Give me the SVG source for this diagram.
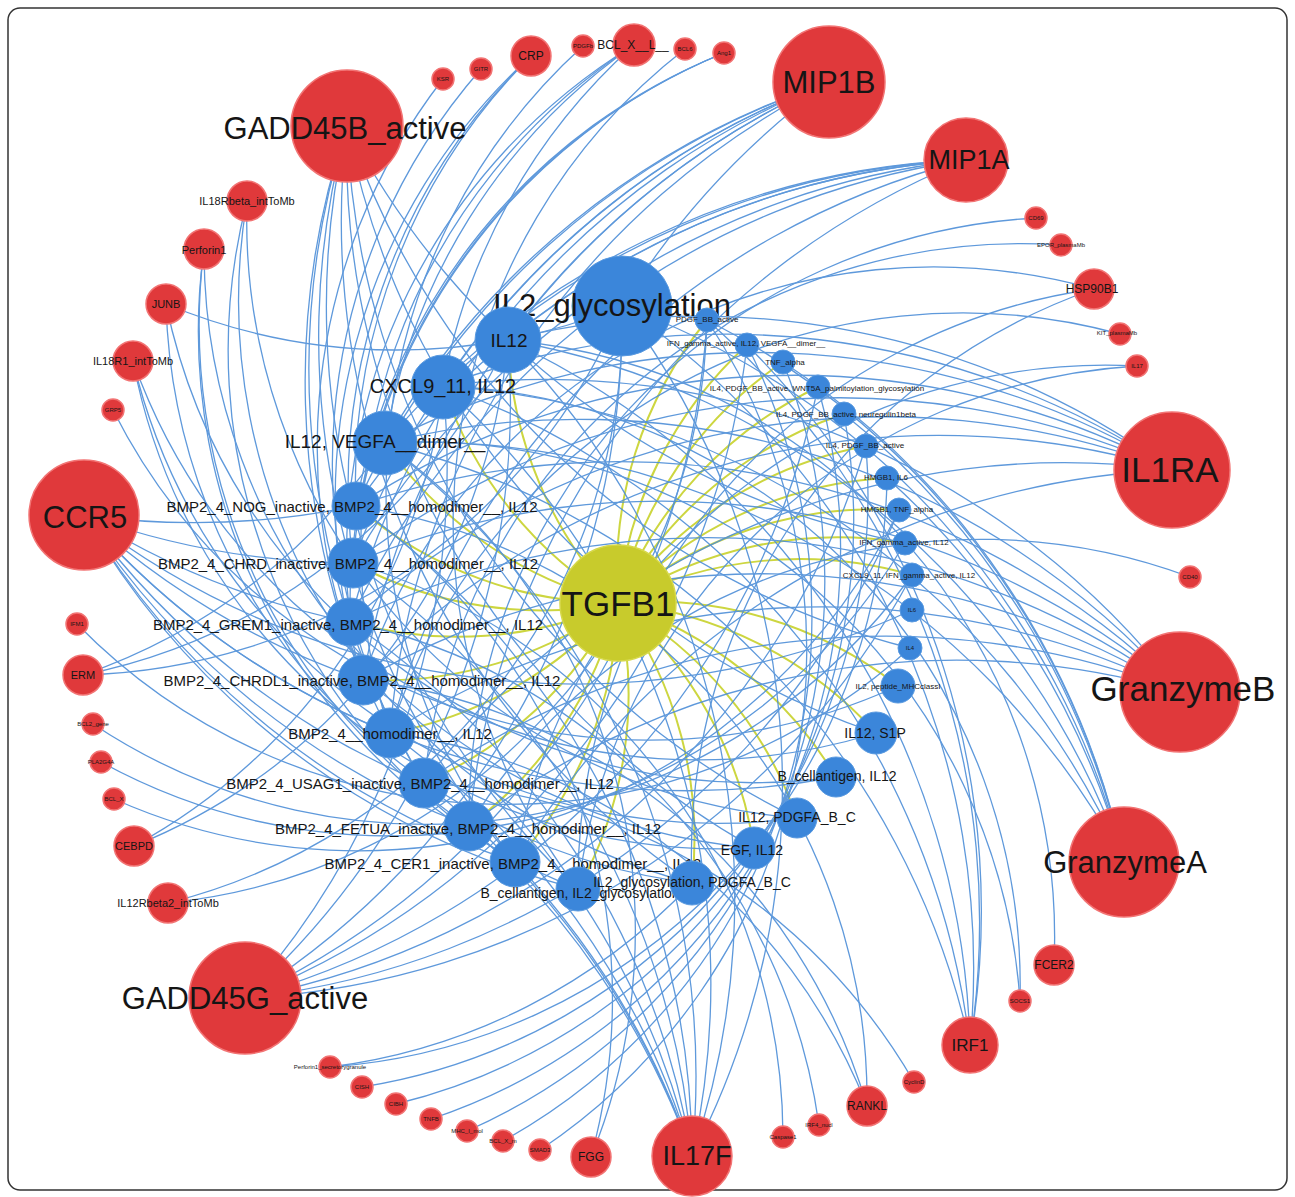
<svg xmlns="http://www.w3.org/2000/svg" width="1295" height="1197" viewBox="0 0 1295 1197">
<style>
.e{fill:none;stroke:#4d8ed8;stroke-width:1.3;opacity:.9}
.y{fill:none;stroke:#cdd640;stroke-width:2}
.r{fill:#e0393b;stroke:#f27474;stroke-width:1.5}
.b{fill:#3b86da;stroke:#5a9ae0;stroke-width:1}
.g{fill:#c8cb2c;stroke:#d6d84a;stroke-width:1.5}
text{font-family:"Liberation Sans",Arial,sans-serif;fill:#151515;text-anchor:middle;dominant-baseline:central}
.s0{font-size:6px}.s1{font-size:8px}.s2{font-size:11px}.s3{font-size:12px}.s4{font-size:14px}.s5{font-size:15px}.s6{font-size:17px}.s7{font-size:19px}.s8{font-size:20px}.s9{font-size:27px}.s10{font-size:31px}.s11{font-size:35px}
</style>
<rect x="8" y="8" width="1279" height="1182" rx="12" fill="#fff" stroke="#333" stroke-width="1.5"/>
<g id="connectors">
<g class="y">
<path d="M618 603A400 400 0 0 1 508 340"/><path d="M618 603A400 400 0 0 1 443 386"/><path d="M618 603A400 400 0 0 1 385 443"/><path d="M618 603A400 400 0 0 1 356 506"/><path d="M618 603A400 400 0 0 1 353 563"/><path d="M618 603A400 400 0 0 1 350 622"/><path d="M618 603A400 400 0 0 1 363 680"/><path d="M618 603A400 400 0 0 1 390 733"/><path d="M618 603A400 400 0 0 1 424 783"/><path d="M618 603A400 400 0 0 1 469 826"/><path d="M618 603A400 400 0 0 1 515 862"/><path d="M618 603A400 400 0 0 1 578 889"/><path d="M618 603A400 400 0 0 1 692 883"/><path d="M618 603A400 400 0 0 1 754 848"/><path d="M618 603A400 400 0 0 1 797 818"/><path d="M618 603A400 400 0 0 1 836 777"/><path d="M618 603A400 400 0 0 1 876 733"/><path d="M618 603A400 400 0 0 1 898 686"/><path d="M618 603A400 400 0 0 1 912 575"/><path d="M618 603A400 400 0 0 1 905 543"/><path d="M618 603A400 400 0 0 1 899 510"/><path d="M618 603A400 400 0 0 1 887 478"/><path d="M618 603A400 400 0 0 1 866 446"/><path d="M618 603A400 400 0 0 1 844 414"/><path d="M618 603A400 400 0 0 1 818 387"/><path d="M618 603A400 400 0 0 1 783 362"/><path d="M618 603A400 400 0 0 1 747 345"/><path d="M618 603A400 400 0 0 1 707 320"/>
</g>
<g class="e">
<path d="M347 126A800 800 0 0 0 363 680"/><path d="M347 126A800 800 0 0 0 424 783"/><path d="M347 126A800 800 0 0 0 515 862"/><path d="M347 126A800 800 0 0 0 578 889"/><path d="M347 126A800 800 0 0 0 692 883"/><path d="M347 126A800 800 0 0 0 754 848"/><path d="M347 126A800 800 0 0 0 797 818"/><path d="M347 126A800 800 0 0 0 876 733"/><path d="M347 126A800 800 0 0 0 910 648"/><path d="M347 126A800 800 0 0 0 905 543"/>
<path d="M245 998A800 800 0 0 0 622 306"/><path d="M245 998A800 800 0 0 0 508 340"/><path d="M245 998A800 800 0 0 0 443 386"/><path d="M245 998A800 800 0 0 0 707 320"/><path d="M245 998A800 800 0 0 0 747 345"/><path d="M245 998A800 800 0 0 0 818 387"/><path d="M245 998A800 800 0 0 0 866 446"/><path d="M245 998A800 800 0 0 0 899 510"/><path d="M245 998A800 800 0 0 0 912 575"/>
<path d="M84 515A800 800 0 0 0 356 506"/><path d="M84 515A800 800 0 0 0 353 563"/><path d="M84 515A800 800 0 0 0 350 622"/><path d="M84 515A800 800 0 0 0 363 680"/><path d="M84 515A800 800 0 0 0 390 733"/><path d="M84 515A800 800 0 0 0 424 783"/><path d="M84 515A800 800 0 0 0 469 826"/><path d="M84 515A800 800 0 0 0 515 862"/><path d="M84 515A800 800 0 0 0 578 889"/><path d="M84 515A800 800 0 0 0 836 777"/><path d="M84 515A800 800 0 0 0 912 610"/>
<path d="M829 82A800 800 0 0 0 508 340"/><path d="M829 82A800 800 0 0 0 443 386"/><path d="M829 82A800 800 0 0 0 385 443"/><path d="M829 82A800 800 0 0 0 356 506"/><path d="M829 82A800 800 0 0 0 353 563"/><path d="M829 82A800 800 0 0 0 350 622"/><path d="M829 82A800 800 0 0 0 363 680"/><path d="M829 82A800 800 0 0 0 390 733"/><path d="M829 82A800 800 0 0 0 622 306"/>
<path d="M966 160A800 800 0 0 0 508 340"/><path d="M966 160A800 800 0 0 0 443 386"/><path d="M966 160A800 800 0 0 0 385 443"/><path d="M966 160A800 800 0 0 0 356 506"/><path d="M966 160A800 800 0 0 0 353 563"/><path d="M966 160A800 800 0 0 0 350 622"/><path d="M966 160A800 800 0 0 0 390 733"/><path d="M966 160A800 800 0 0 0 469 826"/>
<path d="M1172 470A800 800 0 0 0 508 340"/><path d="M1172 470A800 800 0 0 0 443 386"/><path d="M1172 470A800 800 0 0 0 385 443"/><path d="M1172 470A800 800 0 0 0 356 506"/><path d="M1172 470A800 800 0 0 0 353 563"/><path d="M1172 470A800 800 0 0 0 350 622"/><path d="M1172 470A800 800 0 0 0 363 680"/><path d="M1172 470A800 800 0 0 0 424 783"/><path d="M1172 470A800 800 0 0 0 515 862"/>
<path d="M1180 692A800 800 0 0 0 443 386"/><path d="M1180 692A800 800 0 0 0 385 443"/><path d="M1180 692A800 800 0 0 0 356 506"/><path d="M1180 692A800 800 0 0 0 353 563"/><path d="M1180 692A800 800 0 0 0 350 622"/><path d="M1180 692A800 800 0 0 0 363 680"/><path d="M1180 692A800 800 0 0 0 390 733"/><path d="M1180 692A800 800 0 0 0 424 783"/><path d="M1180 692A800 800 0 0 0 469 826"/>
<path d="M1124 862A800 800 0 0 0 622 306"/><path d="M1124 862A800 800 0 0 0 508 340"/><path d="M1124 862A800 800 0 0 0 443 386"/><path d="M1124 862A800 800 0 0 0 385 443"/><path d="M1124 862A800 800 0 0 0 707 320"/><path d="M1124 862A800 800 0 0 0 783 362"/><path d="M1124 862A800 800 0 0 0 844 414"/><path d="M1124 862A800 800 0 0 0 887 478"/>
<path d="M692 1156A800 800 0 0 0 622 306"/><path d="M692 1156A800 800 0 0 0 508 340"/><path d="M692 1156A800 800 0 0 0 443 386"/><path d="M692 1156A800 800 0 0 0 385 443"/><path d="M692 1156A800 800 0 0 0 356 506"/><path d="M692 1156A800 800 0 0 0 353 563"/><path d="M692 1156A800 800 0 0 0 350 622"/><path d="M692 1156A800 800 0 0 0 363 680"/><path d="M692 1156A800 800 0 0 0 390 733"/><path d="M692 1156A800 800 0 0 0 424 783"/><path d="M692 1156A800 800 0 0 0 469 826"/><path d="M692 1156A800 800 0 0 0 515 862"/>
<path d="M970 1045A800 800 0 0 0 622 306"/><path d="M970 1045A800 800 0 0 0 508 340"/><path d="M970 1045A800 800 0 0 0 443 386"/><path d="M970 1045A800 800 0 0 0 385 443"/><path d="M970 1045A800 800 0 0 0 707 320"/><path d="M970 1045A800 800 0 0 0 747 345"/>
<path d="M443 79A600 600 0 0 0 390 733"/><path d="M481 69A600 600 0 0 0 424 783"/><path d="M531 56A600 600 0 0 0 356 506"/><path d="M531 56A600 600 0 0 0 353 563"/><path d="M531 56A600 600 0 0 0 363 680"/><path d="M583 46A600 600 0 0 0 515 862"/><path d="M634 45A600 600 0 0 0 443 386"/><path d="M634 45A600 600 0 0 0 385 443"/><path d="M634 45A600 600 0 0 0 350 622"/><path d="M634 45A600 600 0 0 0 390 733"/><path d="M685 49A600 600 0 0 0 578 889"/><path d="M724 53A600 600 0 0 0 356 506"/><path d="M724 53A600 600 0 0 0 353 563"/><path d="M724 53A600 600 0 0 0 350 622"/>
<path d="M247 201A600 600 0 0 0 692 883"/><path d="M247 201A600 600 0 0 0 797 818"/><path d="M247 201A600 600 0 0 0 515 862"/><path d="M204 249A600 600 0 0 0 578 889"/><path d="M204 249A600 600 0 0 0 754 848"/><path d="M204 249A600 600 0 0 0 469 826"/><path d="M166 304A600 600 0 0 0 692 883"/><path d="M166 304A600 600 0 0 0 836 777"/><path d="M166 304A600 600 0 0 0 622 306"/><path d="M133 361A600 600 0 0 0 754 848"/><path d="M133 361A600 600 0 0 0 797 818"/><path d="M133 361A600 600 0 0 0 876 733"/><path d="M113 410A600 600 0 0 0 898 686"/>
<path d="M77 624A600 600 0 0 0 910 648"/><path d="M83 675A600 600 0 0 0 385 443"/><path d="M83 675A600 600 0 0 0 622 306"/><path d="M83 675A600 600 0 0 0 508 340"/><path d="M93 724A600 600 0 0 0 912 575"/><path d="M101 762A600 600 0 0 0 905 543"/><path d="M114 799A600 600 0 0 0 899 510"/><path d="M134 846A600 600 0 0 0 508 340"/><path d="M134 846A600 600 0 0 0 443 386"/><path d="M168 903A600 600 0 0 0 622 306"/><path d="M168 903A600 600 0 0 0 707 320"/>
<path d="M330 1067A600 600 0 0 0 887 478"/><path d="M330 1067A600 600 0 0 0 692 883"/><path d="M362 1087A600 600 0 0 0 866 446"/><path d="M396 1104A600 600 0 0 0 844 414"/><path d="M431 1119A600 600 0 0 0 818 387"/><path d="M467 1131A600 600 0 0 0 783 362"/><path d="M503 1141A600 600 0 0 0 747 345"/><path d="M540 1150A600 600 0 0 0 707 320"/><path d="M591 1157A600 600 0 0 0 385 443"/><path d="M591 1157A600 600 0 0 0 356 506"/>
<path d="M783 1137A600 600 0 0 0 353 563"/><path d="M819 1125A600 600 0 0 0 350 622"/><path d="M867 1106A600 600 0 0 0 356 506"/><path d="M867 1106A600 600 0 0 0 363 680"/><path d="M867 1106A600 600 0 0 0 390 733"/><path d="M914 1082A600 600 0 0 0 424 783"/><path d="M1020 1001A600 600 0 0 0 443 386"/><path d="M1020 1001A600 600 0 0 0 385 443"/><path d="M1054 965A600 600 0 0 0 508 340"/>
<path d="M1190 577A600 600 0 0 0 469 826"/><path d="M1137 366A600 600 0 0 0 515 862"/><path d="M1137 366A600 600 0 0 0 578 889"/><path d="M1120 334A600 600 0 0 0 390 733"/><path d="M1094 289A600 600 0 0 0 363 680"/><path d="M1094 289A600 600 0 0 0 578 889"/><path d="M1094 289A600 600 0 0 0 692 883"/><path d="M1061 245A600 600 0 0 0 424 783"/><path d="M1036 218A600 600 0 0 0 469 826"/>
</g>
</g>
<g id="nodes">
<g id="TGFB1"><circle class="g" cx="618" cy="603" r="58"/><text class="s11" x="618" y="603">TGFB1</text></g>
<g id="IL2_glycosylation"><circle class="b" cx="622" cy="306" r="50"/><text class="s10" x="612" y="305">IL2_glycosylation</text></g>
<g id="IL12"><circle class="b" cx="508" cy="340" r="33"/><text class="s7" x="509" y="340">IL12</text></g>
<g id="CXCL9_11_IL12"><circle class="b" cx="443" cy="387" r="32"/><text class="s8" x="443" y="386">CXCL9_11, IL12</text></g>
<g id="IL12_VEGFA"><circle class="b" cx="385" cy="443" r="32"/><text class="s7" x="385" y="441">IL12, VEGFA__dimer__</text></g>
<g id="BMP_NOG"><circle class="b" cx="356" cy="506" r="24"/><text class="s5" x="352" y="506">BMP2_4_NOG_inactive, BMP2_4__homodimer__, IL12</text></g>
<g id="BMP_CHRD"><circle class="b" cx="353" cy="563" r="25"/><text class="s5" x="348" y="563">BMP2_4_CHRD_inactive, BMP2_4__homodimer__, IL12</text></g>
<g id="BMP_GREM1"><circle class="b" cx="350" cy="622" r="24"/><text class="s5" x="348" y="624">BMP2_4_GREM1_inactive, BMP2_4__homodimer__, IL12</text></g>
<g id="BMP_CHRDL1"><circle class="b" cx="363" cy="680" r="25"/><text class="s5" x="362" y="680">BMP2_4_CHRDL1_inactive, BMP2_4__homodimer__, IL12</text></g>
<g id="BMP_homodimer"><circle class="b" cx="390" cy="733" r="25"/><text class="s5" x="390" y="733">BMP2_4__homodimer__, IL12</text></g>
<g id="BMP_USAG1"><circle class="b" cx="424" cy="783" r="25"/><text class="s5" x="420" y="783">BMP2_4_USAG1_inactive, BMP2_4__homodimer__, IL12</text></g>
<g id="BMP_FETUA"><circle class="b" cx="469" cy="826" r="25"/><text class="s5" x="468" y="828">BMP2_4_FETUA_inactive, BMP2_4__homodimer__, IL12</text></g>
<g id="BMP_CER1"><circle class="b" cx="515" cy="862" r="25"/><text class="s5" x="513" y="863">BMP2_4_CER1_inactive, BMP2_4__homodimer__, IL12</text></g>
<g id="Bcell_IL2glyc"><circle class="b" cx="578" cy="889" r="22"/><text class="s4" x="580" y="893">B_cellantigen, IL2_glycosylation</text></g>
<g id="IL2glyc_PDGFA"><circle class="b" cx="692" cy="883" r="22"/><text class="s4" x="692" y="882">IL2_glycosylation, PDGFA_B_C</text></g>
<g id="EGF_IL12"><circle class="b" cx="754" cy="848" r="21"/><text class="s4" x="752" y="850">EGF, IL12</text></g>
<g id="IL12_PDGFA"><circle class="b" cx="797" cy="818" r="20"/><text class="s4" x="797" y="817">IL12, PDGFA_B_C</text></g>
<g id="Bcell_IL12"><circle class="b" cx="836" cy="777" r="20"/><text class="s4" x="837" y="776">B_cellantigen, IL12</text></g>
<g id="IL12_S1P"><circle class="b" cx="876" cy="733" r="21"/><text class="s4" x="875" y="733">IL12, S1P</text></g>
<g id="IL2_peptide"><circle class="b" cx="898" cy="686" r="17"/><text class="s1" x="898" y="686">IL2, peptide_MHCclassI</text></g>
<g id="IL4"><circle class="b" cx="910" cy="648" r="12"/><text class="s0" x="910" y="648">IL4</text></g>
<g id="IL6"><circle class="b" cx="912" cy="610" r="12"/><text class="s0" x="912" y="610">IL6</text></g>
<g id="CXCL9_IFN_IL12"><circle class="b" cx="912" cy="575" r="12"/><text class="s1" x="909" y="575">CXCL9_11, IFN_gamma_active, IL12</text></g>
<g id="IFN_IL12"><circle class="b" cx="905" cy="543" r="12"/><text class="s1" x="904" y="542">IFN_gamma_active, IL12</text></g>
<g id="HMGB1_TNF"><circle class="b" cx="899" cy="510" r="12"/><text class="s1" x="897" y="509">HMGB1, TNF_alpha</text></g>
<g id="HMGB1_IL6"><circle class="b" cx="887" cy="478" r="12"/><text class="s1" x="886" y="477">HMGB1, IL6</text></g>
<g id="IL4_PDGF"><circle class="b" cx="866" cy="446" r="12"/><text class="s1" x="865" y="445">IL4, PDGF_BB_active</text></g>
<g id="IL4_PDGF_NRG"><circle class="b" cx="844" cy="414" r="12"/><text class="s1" x="846" y="414">IL4, PDGF_BB_active, neuregulin1beta</text></g>
<g id="IL4_PDGF_WNT5A"><circle class="b" cx="818" cy="387" r="12"/><text class="s1" x="817" y="388">IL4, PDGF_BB_active, WNT5A_palmitoylation_glycosylation</text></g>
<g id="TNF_alpha"><circle class="b" cx="783" cy="362" r="12"/><text class="s1" x="785" y="362">TNF_alpha</text></g>
<g id="IFN_IL12_VEGFA"><circle class="b" cx="747" cy="345" r="12"/><text class="s1" x="746" y="343">IFN_gamma_active, IL12, VEGFA__dimer__</text></g>
<g id="PDGF_BB"><circle class="b" cx="707" cy="320" r="12"/><text class="s1" x="707" y="319">PDGF_BB_active</text></g>

<g id="GADD45B_active"><circle class="r" cx="347" cy="126" r="56"/><text class="s10" x="345" y="128">GADD45B_active</text></g>
<g id="IL18Rbeta_intToMb"><circle class="r" cx="247" cy="201" r="20"/><text class="s2" x="247" y="201">IL18Rbeta_intToMb</text></g>
<g id="Perforin1"><circle class="r" cx="204" cy="249" r="20"/><text class="s2" x="204" y="250">Perforin1</text></g>
<g id="JUNB"><circle class="r" cx="166" cy="304" r="20"/><text class="s2" x="166" y="304">JUNB</text></g>
<g id="IL18R1_intToMb"><circle class="r" cx="133" cy="361" r="20"/><text class="s2" x="133" y="361">IL18R1_intToMb</text></g>
<g id="GRP5"><circle class="r" cx="113" cy="410" r="11"/><text class="s0" x="113" y="410">GRP5</text></g>
<g id="CCR5"><circle class="r" cx="84" cy="515" r="55"/><text class="s10" x="85" y="517">CCR5</text></g>
<g id="IFM1"><circle class="r" cx="77" cy="624" r="11"/><text class="s0" x="77" y="624">IFM1</text></g>
<g id="ERM"><circle class="r" cx="83" cy="675" r="20"/><text class="s2" x="83" y="675">ERM</text></g>
<g id="BCL2_gene"><circle class="r" cx="93" cy="724" r="11"/><text class="s0" x="93" y="724">BCL2_gene</text></g>
<g id="PLA2G4A"><circle class="r" cx="101" cy="762" r="11"/><text class="s0" x="101" y="762">PLA2G4A</text></g>
<g id="BCL_X"><circle class="r" cx="114" cy="799" r="11"/><text class="s0" x="114" y="799">BCL_X</text></g>
<g id="CEBPD"><circle class="r" cx="134" cy="846" r="20"/><text class="s2" x="134" y="846">CEBPD</text></g>
<g id="IL12Rbeta2_intToMb"><circle class="r" cx="168" cy="903" r="20"/><text class="s2" x="168" y="903">IL12Rbeta2_intToMb</text></g>
<g id="GADD45G_active"><circle class="r" cx="245" cy="998" r="56"/><text class="s10" x="245" y="998">GADD45G_active</text></g>
<g id="Perforin1_secretorygranule"><circle class="r" cx="330" cy="1067" r="11"/><text class="s0" x="330" y="1067">Perforin1_secretorygranule</text></g>
<g id="CISH"><circle class="r" cx="362" cy="1087" r="11"/><text class="s0" x="362" y="1087">CISH</text></g>
<g id="CIBH"><circle class="r" cx="396" cy="1104" r="11"/><text class="s0" x="396" y="1104">CIBH</text></g>
<g id="TNFB"><circle class="r" cx="431" cy="1119" r="11"/><text class="s0" x="431" y="1119">TNFB</text></g>
<g id="MHC_I_mol"><circle class="r" cx="467" cy="1131" r="11"/><text class="s0" x="467" y="1131">MHC_I_mol</text></g>
<g id="BCL_X_m"><circle class="r" cx="503" cy="1141" r="11"/><text class="s0" x="503" y="1141">BCL_X_m</text></g>
<g id="SMAD3"><circle class="r" cx="540" cy="1150" r="11"/><text class="s0" x="540" y="1150">SMAD3</text></g>
<g id="FGG"><circle class="r" cx="591" cy="1157" r="20"/><text class="s3" x="591" y="1157">FGG</text></g>
<g id="IL17F"><circle class="r" cx="692" cy="1156" r="40"/><text class="s9" x="697" y="1156">IL17F</text></g>
<g id="Caspase1"><circle class="r" cx="783" cy="1137" r="11"/><text class="s0" x="783" y="1137">Caspase1</text></g>
<g id="IRF4_nucl"><circle class="r" cx="819" cy="1125" r="11"/><text class="s0" x="819" y="1125">IRF4_nucl</text></g>
<g id="RANKL"><circle class="r" cx="867" cy="1106" r="20"/><text class="s3" x="867" y="1106">RANKL</text></g>
<g id="CyclinD"><circle class="r" cx="914" cy="1082" r="11"/><text class="s0" x="914" y="1082">CyclinD</text></g>
<g id="IRF1"><circle class="r" cx="970" cy="1045" r="28"/><text class="s6" x="970" y="1045">IRF1</text></g>
<g id="SOCS1"><circle class="r" cx="1020" cy="1001" r="11"/><text class="s0" x="1020" y="1001">SOCS1</text></g>
<g id="FCER2"><circle class="r" cx="1054" cy="965" r="20"/><text class="s3" x="1054" y="965">FCER2</text></g>
<g id="GranzymeA"><circle class="r" cx="1124" cy="862" r="55"/><text class="s10" x="1125" y="862">GranzymeA</text></g>
<g id="GranzymeB"><circle class="r" cx="1180" cy="692" r="60"/><text class="s11" x="1183" y="688">GranzymeB</text></g>
<g id="CD40"><circle class="r" cx="1190" cy="577" r="11"/><text class="s0" x="1190" y="577">CD40</text></g>
<g id="IL1RA"><circle class="r" cx="1172" cy="470" r="58"/><text class="s11" x="1170" y="469">IL1RA</text></g>
<g id="IL17"><circle class="r" cx="1137" cy="366" r="11"/><text class="s0" x="1137" y="366">IL17</text></g>
<g id="KIT_plasmaMb"><circle class="r" cx="1120" cy="334" r="11"/><text class="s0" x="1117" y="333">KIT_plasmaMb</text></g>
<g id="HSP90B1"><circle class="r" cx="1094" cy="289" r="20"/><text class="s3" x="1092" y="289">HSP90B1</text></g>
<g id="EPOR_plasmaMb"><circle class="r" cx="1061" cy="245" r="11"/><text class="s0" x="1061" y="245">EPOR_plasmaMb</text></g>
<g id="CD69"><circle class="r" cx="1036" cy="218" r="11"/><text class="s0" x="1036" y="218">CD69</text></g>
<g id="MIP1A"><circle class="r" cx="966" cy="160" r="42"/><text class="s9" x="969" y="160">MIP1A</text></g>
<g id="MIP1B"><circle class="r" cx="829" cy="82" r="56"/><text class="s10" x="829" y="82">MIP1B</text></g>
<g id="Ang1"><circle class="r" cx="724" cy="53" r="11"/><text class="s0" x="724" y="53">Ang1</text></g>
<g id="BCL6"><circle class="r" cx="685" cy="49" r="11"/><text class="s0" x="685" y="49">BCL6</text></g>
<g id="BCL_X__L__"><circle class="r" cx="634" cy="45" r="21"/><text class="s3" x="633" y="45">BCL_X__L__</text></g>
<g id="PDGFb"><circle class="r" cx="583" cy="46" r="11"/><text class="s0" x="583" y="46">PDGFb</text></g>
<g id="CRP"><circle class="r" cx="531" cy="56" r="20"/><text class="s3" x="531" y="56">CRP</text></g>
<g id="GITR"><circle class="r" cx="481" cy="69" r="11"/><text class="s0" x="481" y="69">GITR</text></g>
<g id="KSR"><circle class="r" cx="443" cy="79" r="11"/><text class="s0" x="443" y="79">KSR</text></g>
</g>
</svg>
